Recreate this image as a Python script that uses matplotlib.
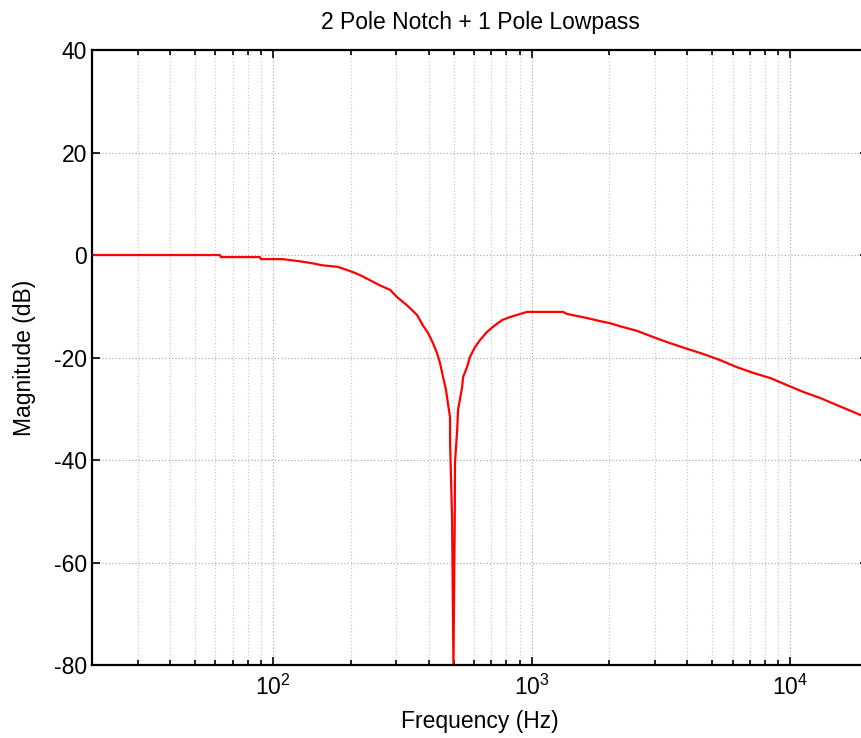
import numpy as np
import matplotlib
matplotlib.use('Agg')
import matplotlib.pyplot as plt
from matplotlib.ticker import LogLocator, NullFormatter

# Frequency response (Hz, dB)
freq_hz = [20, 62.4, 63, 89, 90, 109, 126, 142, 155, 178, 193, 208, 221, 237,
           259, 284, 302, 330, 361, 380, 398, 416, 431, 443, 455, 467, 475,
           484, 484.5, 493, 499, 505, 506, 516, 520, 539, 544, 563, 578, 604,
           632, 673, 710, 769, 826, 903, 961, 1325, 1372, 1500, 1640, 1841,
           2013, 2200, 2558, 2951, 3434, 3996, 4605, 5358, 6235, 7195, 8372,
           9735, 11220, 13060, 15200, 18660, 20000]
mag_db = [0, 0, -0.4, -0.4, -0.8, -0.8, -1.2, -1.6, -2.0, -2.3, -2.9, -3.5,
          -4.1, -4.9, -5.9, -6.8, -8.2, -9.8, -11.7, -13.7, -15.2, -17.2,
          -19.1, -21.1, -23.8, -26.3, -28.9, -31.6, -36.7, -51.3, -80, -51.3,
          -40.6, -34.1, -30.2, -25.8, -23.8, -21.9, -19.9, -18.0, -16.6, -15.0,
          -14.0, -12.7, -12.1, -11.5, -11.1, -11.1, -11.5, -11.9, -12.3,
          -12.9, -13.3, -13.9, -14.8, -16.0, -17.2, -18.3, -19.3, -20.5,
          -21.9, -23.0, -24.0, -25.4, -26.7, -27.9, -29.3, -31.2, -31.8]
y_ticks = [-80, -60, -40, -20, 0, 20, 40]

plt.rcParams['font.family'] = ['Liberation Sans', 'DejaVu Sans']
plt.rcParams['axes.unicode_minus'] = False

fig = plt.figure(figsize=(8.61, 7.38), dpi=100)
ax = fig.add_axes([0.1069, 0.0989, 0.9013, 0.8333])

ax.semilogx(freq_hz, mag_db, color='red', linewidth=1.6)

ax.set_xlim(20, 20000)
ax.set_ylim(-80, 40)
ax.set_yticks(y_ticks)
ax.xaxis.set_major_locator(LogLocator(base=10, numticks=10))
ax.xaxis.set_minor_locator(LogLocator(base=10, subs=np.arange(2, 10), numticks=20))
ax.xaxis.set_minor_formatter(NullFormatter())

ax.grid(True, which='major', color='#b0b0b0', linestyle=':', linewidth=0.9)
ax.grid(True, which='minor', axis='x', color='#cccccc', linestyle=':', linewidth=0.9)

ax.tick_params(which='both', direction='in', top=True, right=True, labelsize=16.5, width=1.2)
ax.tick_params(which='major', length=6)
ax.tick_params(which='minor', length=3.5)
ax.tick_params(axis='x', which='major', pad=7)
for s in ax.spines.values():
    s.set_linewidth(1.6)

ax.set_title('2 Pole Notch + 1 Pole Lowpass', fontsize=16.5, pad=15)
ax.set_xlabel('Frequency (Hz)', fontsize=16.5, labelpad=7)
ax.set_ylabel('Magnitude (dB)', fontsize=16.5, labelpad=13)

fig.savefig('out.png', dpi=100)
